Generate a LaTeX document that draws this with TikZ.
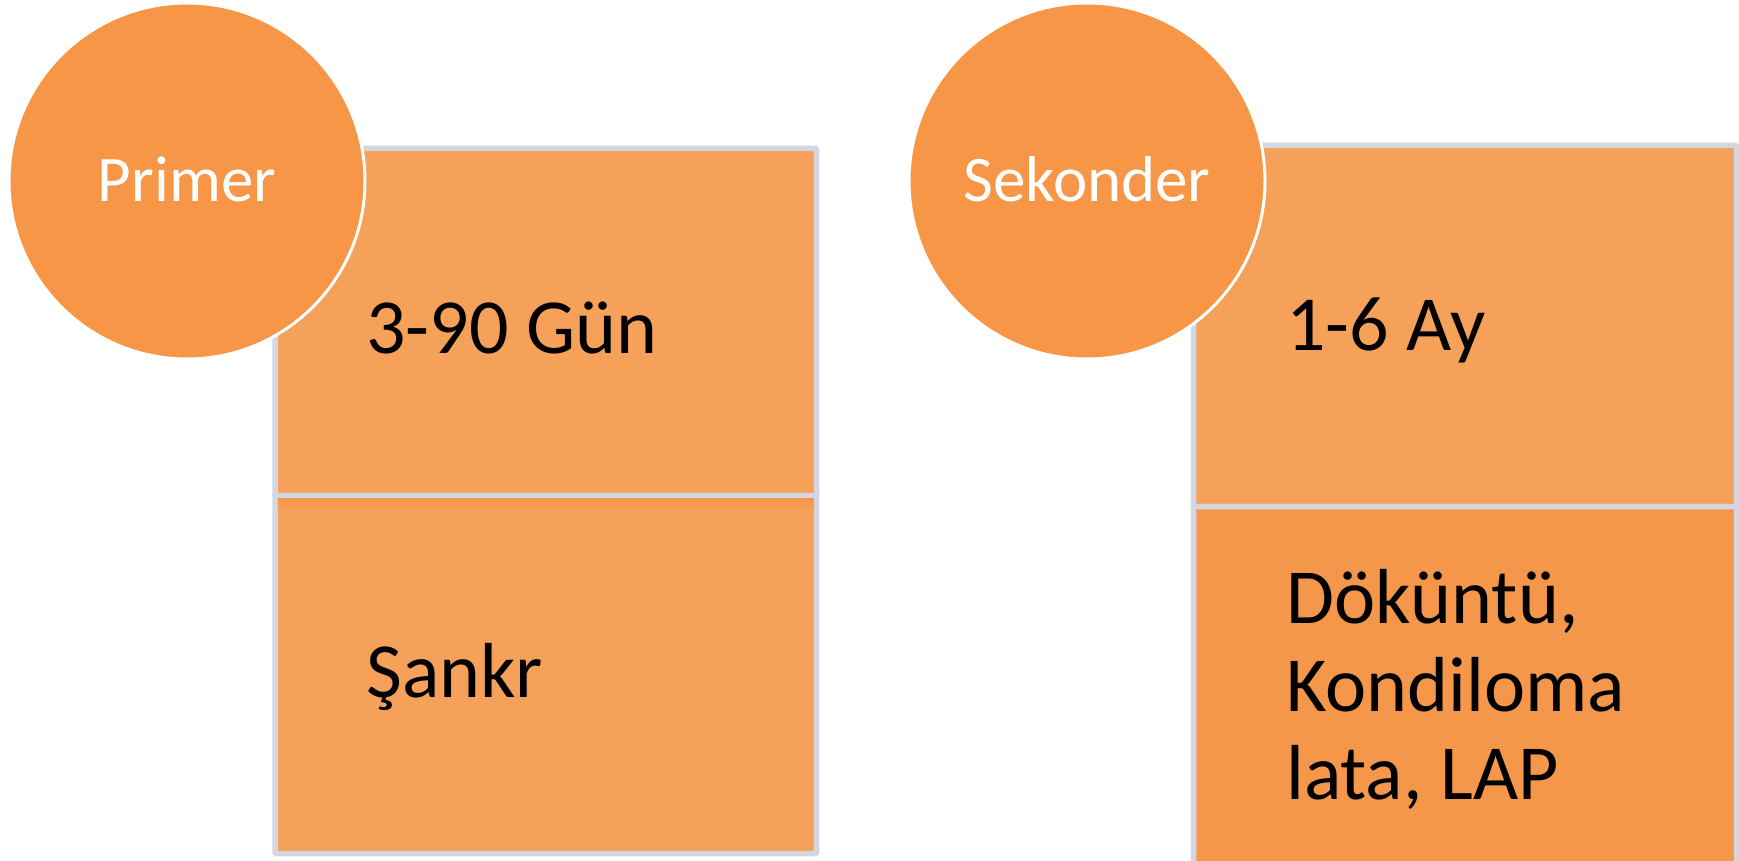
\documentclass[tikz,border=0pt]{standalone}
\usepackage{fontspec}
\setmainfont{Carlito}
\definecolor{circc}{HTML}{F79646}
\definecolor{lightc}{HTML}{F6A15A}
\definecolor{darkc}{HTML}{F5974A}
\definecolor{bordc}{HTML}{D3D7E2}
\tikzset{
  cellbox/.style={draw=bordc, line width=5.5pt, rounded corners=1pt},
  bubble/.style={circle, fill=circc, draw=white, line width=3pt, minimum size=356pt, inner sep=0pt},
  bubtext/.style={text=white, font=\fontsize{65}{78}\selectfont, inner sep=0pt, anchor=base},
  celltext/.style={text=black, font=\fontsize{78}{88}\selectfont, inner sep=0pt, anchor=base west, align=left}
}
\begin{document}
\begin{tikzpicture}[x=1pt,y=-1pt]
\useasboundingbox (0,0) rectangle (1739,861);
\fill[white] (0,0) rectangle (1739,861);
% left box
\filldraw[cellbox, fill=lightc] (275,148.5) rectangle (816.5,495.5);
\filldraw[cellbox, fill=lightc] (275,495.5) rectangle (816.5,853.5);
\shade[top color=circc, bottom color=lightc] (277.75,498.25) rectangle (813.75,510);
% right box
\filldraw[cellbox, fill=lightc] (1193.5,145.5) rectangle (1736.5,506.5);
\filldraw[cellbox, fill=darkc] (1193.5,506.5) rectangle (1736.5,880);
% circles
\node[bubble] (c1) at (187,181) {};
\node[bubble] (c2) at (1087,181) {};
\node[bubtext] (t1) at (187,201) {Primer};
\node[bubtext] (t2) at (1087,201) {Sekonder};
% cell texts
\node[celltext] (a1) at (366,353) {3-90 Gün};
\node[celltext] (a2) at (366,697) {Şankr};
\node[celltext] (b1) at (1286,350) {1-6 Ay};
\node[celltext] (b2) at (1286,799) {Döküntü,\\Kondiloma\\lata, LAP};
\end{tikzpicture}
\end{document}
